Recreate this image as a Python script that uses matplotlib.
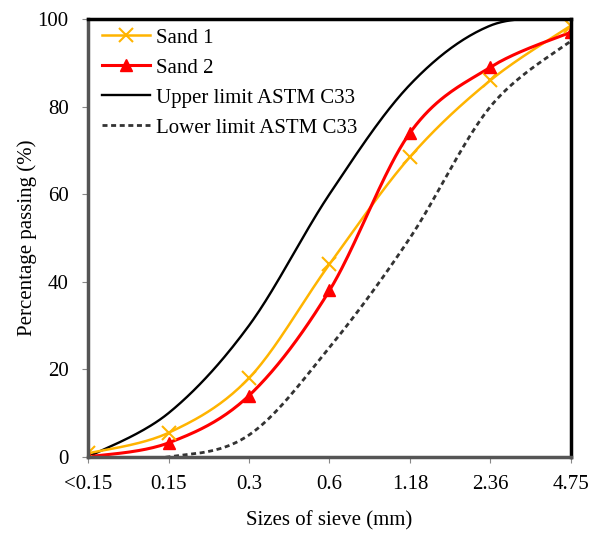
import numpy as np
import matplotlib
matplotlib.use("Agg")
import matplotlib.pyplot as plt

# Sieve sizes (categorical axis) and percentage passing
sieves = ['<0.15', '0.15', '0.3', '0.6', '1.18', '2.36', '4.75']
sand1 = [0.8, 5.5, 18, 44, 68.5, 86, 98.5]
sand2 = [0, 3.2, 14, 38, 74, 89, 97]
upper = [0, 10, 30, 60, 85, 98.5, 100]
lower = [0, 0, 5, 25, 50, 80, 95]

plt.rcParams['font.family'] = ['Liberation Serif', 'DejaVu Serif']


def smooth(x, y, n=40):
    # Excel-like smoothed line: Catmull-Rom bezier through the points
    x = np.asarray(x, float)
    y = np.asarray(y, float)
    px = np.concatenate([[x[0]], x, [x[-1]]])
    py = np.concatenate([[y[0]], y, [y[-1]]])
    xs, ys = [], []
    t = np.linspace(0, 1, n)
    for i in range(1, len(px) - 2):
        p0 = np.array([px[i], py[i]])
        p3 = np.array([px[i + 1], py[i + 1]])
        c1 = p0 + (np.array([px[i + 1], py[i + 1]]) - np.array([px[i - 1], py[i - 1]])) / 6
        c2 = p3 - (np.array([px[i + 2], py[i + 2]]) - np.array([px[i], py[i]])) / 6
        b = ((1 - t) ** 3)[:, None] * p0 + (3 * (1 - t) ** 2 * t)[:, None] * c1 \
            + (3 * (1 - t) * t ** 2)[:, None] * c2 + (t ** 3)[:, None] * p3
        xs.extend(b[:, 0])
        ys.extend(b[:, 1])
    return np.array(xs), np.array(ys)


pos = np.arange(len(sieves))

fig = plt.figure(figsize=(5.91, 5.35), dpi=100)
ax = fig.add_axes([0.149, 0.146, 0.817, 0.8185])

gold = '#FFB400'
red = '#FF0000'
dash = (0, (1.8, 1.3))

sx, sy = smooth(pos, sand1)
ax.plot(sx, sy, color=gold, lw=1.8, zorder=4)
ax.plot(pos, sand1, ls='none', marker='x', ms=10, mew=1.5, color=gold, zorder=5)

sx, sy = smooth(pos, sand2)
ax.plot(sx, sy, color=red, lw=2.2, zorder=4)
ax.plot(pos, sand2, ls='none', marker='^', ms=9, color=red, zorder=5)

sx, sy = smooth(pos, upper)
ax.plot(sx, sy, color='black', lw=1.7, zorder=3)
sx, sy = smooth(pos, lower)
ax.plot(sx, sy, color='#333333', lw=2, ls=dash, zorder=3)

# legend proxies
ax.plot([], [], color=gold, lw=1.8, marker='x', ms=10, mew=1.5, label='Sand 1')
ax.plot([], [], color=red, lw=2.2, marker='^', ms=9, label='Sand 2')
ax.plot([], [], color='black', lw=1.7, label='Upper limit ASTM C33')
ax.plot([], [], color='#333333', lw=2, ls=dash, label='Lower limit ASTM C33')

ax.set_xlim(0, 6)
ax.set_ylim(0, 100)
ax.set_xticks(pos)
ax.set_xticklabels(sieves)
ax.set_yticks(range(0, 101, 20))
ax.tick_params(labelsize=15, length=4, color='#888888')
ax.tick_params(axis='x', pad=9)
ax.tick_params(axis='y', pad=10)

for s in ['left', 'bottom']:
    ax.spines[s].set_color('#555555')
    ax.spines[s].set_linewidth(2.5)
for s in ['top', 'right']:
    ax.spines[s].set_color('black')
    ax.spines[s].set_linewidth(2.5)
for sp in ax.spines.values():
    sp.set_zorder(6)

ax.set_xlabel('Sizes of sieve (mm)', fontsize=15, labelpad=12)
ax.set_ylabel('Percentage passing (%)', fontsize=15, labelpad=0)

handles, labels = ax.get_legend_handles_labels()
ax.legend(handles[-4:], labels[-4:], loc='upper left', bbox_to_anchor=(0.0, 1.01),
          frameon=False, fontsize=15, handlelength=2.3, labelspacing=0.5,
          borderaxespad=0.25, handletextpad=0.3)

fig.savefig('out.png', dpi=100)
